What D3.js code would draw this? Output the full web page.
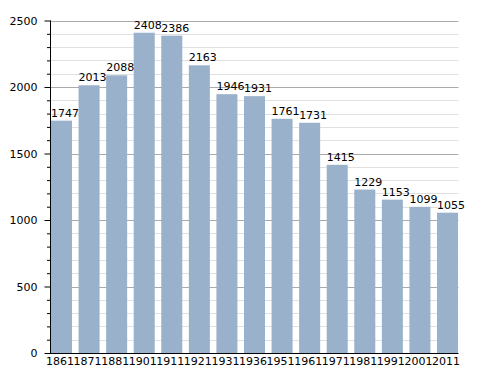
<!DOCTYPE html>
<html><head><meta charset="utf-8">
<script src="https://cdn.jsdelivr.net/npm/d3@7"></script>
<style>body{margin:0;background:#fff}svg{display:block}text{font-family:"DejaVu Sans",sans-serif}</style>
</head><body><svg id="c" width="488" height="373"></svg>
<script>
const years = ["1861","1871","1881","1901","1911","1921","1931","1936","1951","1961","1971","1981","1991","2001","2011"];
const population = [1747,2013,2088,2408,2386,2163,1946,1931,1761,1731,1415,1229,1153,1099,1055];
const yTicks = [0,500,1000,1500,2000,2500];

const svg = d3.select("#c");
const x = d3.scaleBand().domain(years).range([51,458]).paddingInner(0.238).paddingOuter(0);
const y = d3.scaleLinear().domain([0,2500]).range([353,20.5]);
const minor = d3.range(0,2501,100);

// minor grid
svg.append("g").selectAll("line").data(minor.filter(v=>v%500!==0)).join("line")
  .attr("x1",50).attr("x2",458.5).attr("y1",d=>Math.round(y(d))+0.5).attr("y2",d=>Math.round(y(d))+0.5)
  .attr("stroke","#e0e0e0").attr("stroke-width",1);
// major grid
svg.append("g").selectAll("line").data(yTicks.filter(v=>v>0)).join("line")
  .attr("x1",50).attr("x2",458.5).attr("y1",d=>Math.round(y(d))+0.5).attr("y2",d=>Math.round(y(d))+0.5)
  .attr("stroke","#aaaaaa").attr("stroke-width",1);

// bars
svg.append("g").selectAll("rect").data(population).join("rect")
  .attr("x",(d,i)=>x(years[i])).attr("width",x.bandwidth())
  .attr("y",d=>y(d)).attr("height",d=>y(0)-y(d))
  .attr("fill","#99b1ca");

// value labels (left aligned with bar)
svg.append("g").selectAll("text").data(population).join("text")
  .attr("x",(d,i)=>x(years[i])).attr("y",d=>y(d)-4)
  .attr("text-anchor","start").attr("font-size",11).attr("fill","#000")
  .text(d=>d);

// y axis (minor ticks)
const gyMinor = svg.append("g").attr("transform","translate(50.5,0)")
  .call(d3.axisLeft(y).tickValues(minor.filter(v=>v%500!==0)).tickSize(3.5).tickFormat(""));
gyMinor.select(".domain").remove();
gyMinor.selectAll(".tick line").attr("stroke","#000");
// y axis (major ticks)
const gy = svg.append("g").attr("transform","translate(50.5,0)")
  .call(d3.axisLeft(y).tickValues(yTicks).tickSize(6).tickPadding(7).tickFormat(d3.format("d")));
gy.select(".domain").attr("d","M0,"+y(2500)+"V"+(y(0)+0.5)).attr("stroke","#000");
gy.selectAll(".tick line").attr("stroke","#000");
gy.selectAll(".tick text").attr("font-size",11).attr("font-family","DejaVu Sans").attr("fill","#000");

// x axis
const gx = svg.append("g").attr("transform","translate(0,353.5)");
gx.append("path").attr("d","M50,0H458.5").attr("stroke","#000").attr("fill","none");
const gxl = gx.append("g").attr("transform","translate(-1.5,0)")
  .call(d3.axisBottom(x).tickSize(0).tickPadding(4));
gxl.select(".domain").remove();
gxl.selectAll(".tick text").attr("font-size",11).attr("font-family","DejaVu Sans").attr("fill","#000");
</script></body></html>
